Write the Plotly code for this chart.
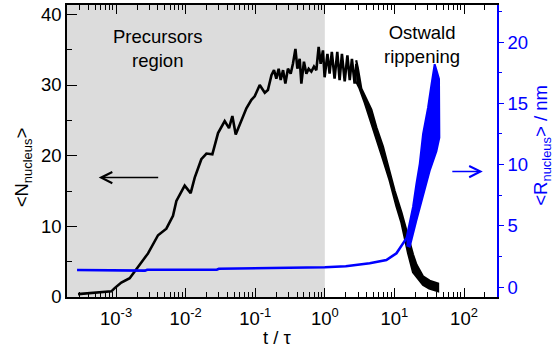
import plotly.graph_objects as go

# ---------------- data ----------------
# black: <N_nucleus> vs t/tau, smooth/jagged part
n_t = [2.84e-4, 5.0e-4, 8.57e-4, 9.55e-4, 1.19e-3, 1.57e-3, 2.07e-3, 2.88e-3, 4.01e-3,
       5.28e-3, 6.58e-3, 7.36e-3, 9.68e-3, 1.18e-2, 1.35e-2, 1.68e-2, 1.99e-2, 2.42e-2,
       2.92e-2, 3.64e-2, 4.20e-2, 4.69e-2, 5.24e-2, 6.31e-2, 7.46e-2, 8.81e-2, 9.82e-2,
       0.116, 0.137, 0.152, 0.171, 0.186, 0.201, 0.217, 0.232, 0.251, 0.271, 0.295,
       0.323, 0.348, 0.378, 0.403, 0.435, 0.460, 0.501, 0.543, 0.586, 0.640, 0.698,
       0.755, 0.815, 0.871, 0.940, 0.993, 1.09, 1.17, 1.26, 1.38, 1.51, 1.63, 1.76,
       1.93, 2.11, 2.28, 2.45, 2.68, 2.84, 3.16]
n_val = [0.40, 0.60, 0.80, 1.26, 2.05, 2.66, 4.3, 6.17, 8.74,
         9.67, 11.5, 13.6, 15.75, 14.7, 16.9, 19.5, 20.3, 20.2,
         23.2, 24.9, 23.9, 25.6, 23.0, 24.9, 26.7, 27.9, 28.4,
         30.0, 28.9, 29.3, 31.4, 32.1, 30.9, 32.3, 30.7, 32.1, 30.2, 32.3,
         31.6, 33.0, 35.1, 32.3, 33.7, 30.2, 33.3, 31.6, 32.3, 31.9, 32.6,
         32.1, 35.4, 33.0, 34.9, 31.1, 34.4, 31.6, 34.7, 30.9, 34.7, 30.7, 34.4,
         30.5, 34.2, 30.7, 33.7, 30.2, 33.0, 29.8]

# black noisy band during decay (upper envelope, then lower envelope)
n_band_up_t = [2.82, 2.99, 3.34, 3.94, 4.66, 5.50, 6.84, 8.07, 10.1, 12.6, 15.7, 18.5,
               20.7, 25.8, 32.1, 42.4]
n_band_up = [33.5, 32.3, 29.5, 28.0, 26.5, 24.0, 21.3, 18.6, 15.0, 12.0, 8.5, 6.0,
             4.6, 2.9, 2.3, 1.9]
n_band_lo_t = [42.4, 31.6, 25.8, 18.5, 15.7, 12.6, 10.7, 8.53, 6.84, 5.50, 4.41, 3.74,
               3.16, 2.82]
n_band_lo = [0.8, 1.2, 1.7, 3.5, 6.2, 10.5, 12.8, 16.5, 19.5, 22.5, 25.3, 27.5,
             29.5, 30.5]

# blue: <R_nucleus> / nm vs t/tau
r_t = [2.75e-4, 1.9e-3, 2.1e-3, 2.6e-3, 2.8e-3, 1.0e-2, 2.6e-2, 2.8e-2, 3.0e-2,
       0.1, 0.3, 1.0, 2.0, 4.41, 7.66, 10.7, 13.3, 14.9]
r_val = [1.40, 1.40, 1.34, 1.34, 1.42, 1.45, 1.47, 1.42, 1.50,
         1.52, 1.56, 1.62, 1.70, 1.95, 2.21, 2.76, 3.57, 4.0]

# blue oscillating band (upper envelope, then lower envelope)
r_band_up_t = [14.9, 15.7, 18.5, 20.7, 23.1, 25.8, 30.4, 34.0, 37.9, 40.7, 43.7]
r_band_up = [4.0, 4.65, 6.54, 8.43, 10.06, 12.5, 14.65, 16.5, 18.2, 17.6, 17.0]
r_band_lo_t = [44.2, 40.1, 32.1, 25.8, 20.7, 16.6, 14.9]
r_band_lo = [12.2, 11.1, 9.5, 7.6, 5.46, 3.3, 3.4]

# shaded "precursors" region ends at t/tau = 1
shade_end = 1.0

# axes
x_tickvals = [1e-3, 1e-2, 1e-1, 1e0, 1e1, 1e2]
x_ticktext = ["10<sup>-3</sup>", "10<sup>-2</sup>", "10<sup>-1</sup>",
              "10<sup>0</sup>", "10<sup>1</sup>", "10<sup>2</sup>"]
x_minor = [k * 10.0 ** e for e in range(-4, 3) for k in range(2, 10)]
x_range_log = [-3.705, 2.474]
y_range = [0, 41.32]
y2_range = [-0.81, 23.03]

FONT = "Liberation Sans, Arial, Helvetica, sans-serif"
BLUE = "#0000ff"
FS = 18.5

fig = go.Figure()

# gray region (clipped to the plot area)
fig.add_trace(go.Scatter(
    x=[1e-5, shade_end, shade_end, 1e-5], y=[-5, -5, 60, 60],
    mode="none", fill="toself", fillcolor="#dcdcdc", hoverinfo="skip",
    showlegend=False, yaxis="y"))

# black curve
fig.add_trace(go.Scatter(
    x=n_t, y=n_val, mode="lines",
    line=dict(color="black", width=2.6), showlegend=False, yaxis="y"))
fig.add_trace(go.Scatter(
    x=n_band_up_t + n_band_lo_t, y=n_band_up + n_band_lo, mode="lines",
    fill="toself", fillcolor="black",
    line=dict(color="black", width=2.2), showlegend=False, yaxis="y"))

# blue curve
fig.add_trace(go.Scatter(
    x=r_t, y=r_val, mode="lines",
    line=dict(color=BLUE, width=2.6), showlegend=False, yaxis="y2"))
fig.add_trace(go.Scatter(
    x=r_band_up_t + r_band_lo_t, y=r_band_up + r_band_lo, mode="lines",
    fill="toself", fillcolor=BLUE,
    line=dict(color=BLUE, width=2), showlegend=False, yaxis="y2"))

fig.update_layout(
    width=555, height=352,
    margin=dict(l=67, r=58, t=3, b=55),
    paper_bgcolor="white", plot_bgcolor="white",
    font=dict(family=FONT, size=FS, color="black"),
    xaxis=dict(
        type="log", range=x_range_log,
        tickmode="array", tickvals=x_tickvals, ticktext=x_ticktext,
        ticks="inside", ticklen=9, tickwidth=1.3, tickcolor="black",
        minor=dict(tickmode="array", tickvals=x_minor, ticks="inside",
                   ticklen=5, tickwidth=1.1, tickcolor="black"),
        showline=True, linecolor="black", linewidth=1.5, mirror="ticks",
        showgrid=False, zeroline=False, ticklabelstandoff=4,
        tickfont=dict(family=FONT, size=FS, color="black"),
    ),
    yaxis=dict(
        range=y_range, tickmode="array", tickvals=[0, 10, 20, 30, 40],
        ticks="inside", ticklen=10, tickwidth=1.3, tickcolor="black",
        minor=dict(tickmode="array", tickvals=[5, 15, 25, 35], ticks="inside",
                   ticklen=5, tickwidth=1.1, tickcolor="black"),
        showline=True, linecolor="black", linewidth=1.5, mirror=False,
        showgrid=False, zeroline=False,
        tickfont=dict(family=FONT, size=FS, color="black"),
    ),
    yaxis2=dict(
        overlaying="y", side="right", range=y2_range,
        tickmode="array", tickvals=[0, 5, 10, 15, 20],
        ticks="outside", ticklen=5, tickwidth=1.3, tickcolor=BLUE,
        minor=dict(tickmode="array", tickvals=[2.5, 7.5, 12.5, 17.5, 22.5],
                   ticks="outside", ticklen=3, tickwidth=1.1, tickcolor=BLUE),
        showline=True, linecolor=BLUE, linewidth=1.5,
        showgrid=False, zeroline=False,
        tickfont=dict(family=FONT, size=FS, color=BLUE),
    ),
)

# axis titles
fig.add_annotation(text="t / τ", xref="paper", yref="paper", x=0.49, y=-0.138,
                   xanchor="center", yanchor="middle", showarrow=False,
                   font=dict(family=FONT, size=FS, color="black"))
fig.add_annotation(text="&lt;N<sub>nucleus</sub>&gt;", xref="paper", yref="paper",
                   x=-0.103, y=0.443, textangle=-90, xanchor="center", yanchor="middle",
                   showarrow=False, font=dict(family=FONT, size=FS, color="black"))
fig.add_annotation(text="&lt;R<sub>nucleus</sub>&gt; / nm", xref="paper", yref="paper",
                   x=1.106, y=0.52, textangle=-90, xanchor="center", yanchor="middle",
                   showarrow=False, font=dict(family=FONT, size=FS, color=BLUE))

# region labels
fig.add_annotation(text="Precursors<br>region", xref="paper", yref="paper",
                   x=0.2098, y=0.85, xanchor="center", yanchor="middle", showarrow=False,
                   align="center", font=dict(family=FONT, size=FS, color="black"))
fig.add_annotation(text="Ostwald<br>rippening", xref="paper", yref="paper",
                   x=0.826, y=0.865, xanchor="center", yanchor="middle", showarrow=False,
                   align="center", font=dict(family=FONT, size=FS, color="black"))

# arrows
fig.add_annotation(text="", xref="paper", yref="paper", x=0.0737, y=0.409,
                   ax=61, ay=0, showarrow=True, arrowhead=5, arrowsize=1.375,
                   arrowwidth=1.6, arrowcolor="black")
fig.add_annotation(text="", xref="paper", yref="paper", x=0.967, y=0.4296,
                   ax=-32, ay=0, showarrow=True, arrowhead=5, arrowsize=1.375,
                   arrowwidth=1.6, arrowcolor=BLUE)

fig.write_html("out.html")
